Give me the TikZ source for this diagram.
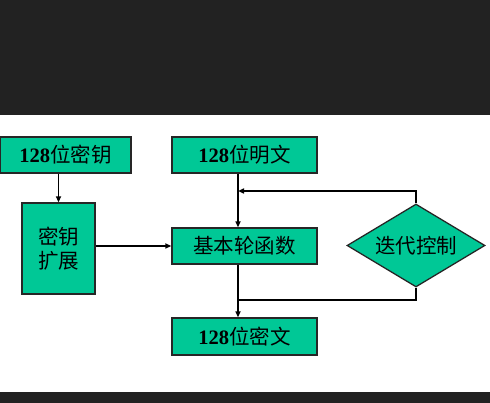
\documentclass[tikz,border=0pt]{standalone}
\usepackage{fontspec}
\setmainfont{Liberation Serif}
\newfontfamily\cjk{Noto Sans CJK SC}
\usetikzlibrary{shapes.geometric,arrows.meta}
\definecolor{boxfill}{HTML}{00C896}
\definecolor{band}{HTML}{222222}
\tikzset{
  box/.style={draw=black!85,line width=1.3pt,fill=boxfill,inner sep=0pt,font=\fontsize{20.5}{24}\selectfont},
  ctlshape/.style={diamond,draw=black!85,line width=1.3pt,fill=boxfill,inner sep=0pt,aspect=1.66,
    minimum width=138pt,minimum height=83pt,font=\fontsize{20.5}{24}\selectfont},
  conn/.style={line width=1.6pt,black},
  arr/.style={conn,-{Triangle[length=6pt,width=5pt]}}
}
\begin{document}
\begin{tikzpicture}[x=1pt,y=-1pt]
\useasboundingbox (0,0) rectangle (490,403);
\fill[band] (0,0) rectangle (490,115);
\fill[band] (0,392) rectangle (490,403);
\node[box,minimum width=131pt,minimum height=36pt] (key) at (65.5,155) {\textbf{128}\cjk{位密钥}};
\node[box,minimum width=145pt,minimum height=36pt] (pt) at (244.5,155) {\textbf{128}\cjk{位明文}};
\node[box,minimum width=73pt,minimum height=91pt,align=center] (kexp) at (58.5,248.5) {\cjk{密钥}\\\cjk{扩展}};
\node[box,minimum width=145pt,minimum height=36pt] (round) at (244.5,246) {\cjk{基本轮函数}};
\node[box,minimum width=145pt,minimum height=37pt] (ct) at (244.5,336.5) {\textbf{128}\cjk{位密文}};
\node[ctlshape] (ctl) at (416,245.5) {\cjk{迭代控制}};
\coordinate (col) at (238,0);
\coordinate (top) at (238,191);
\coordinate (bot) at (238,300);
\draw[arr] (key.south -| kexp.north) -- (kexp.north);
\draw[arr] (kexp.east |- round.west) -- (round.west);
\draw[arr] (pt.south -| col) -- (round.north -| col);
\draw[arr] (ctl.north) |- (top);
\draw[conn] (ctl.south) |- (bot);
\draw[arr] (round.south -| col) -- (ct.north -| col);
\end{tikzpicture}
\end{document}
